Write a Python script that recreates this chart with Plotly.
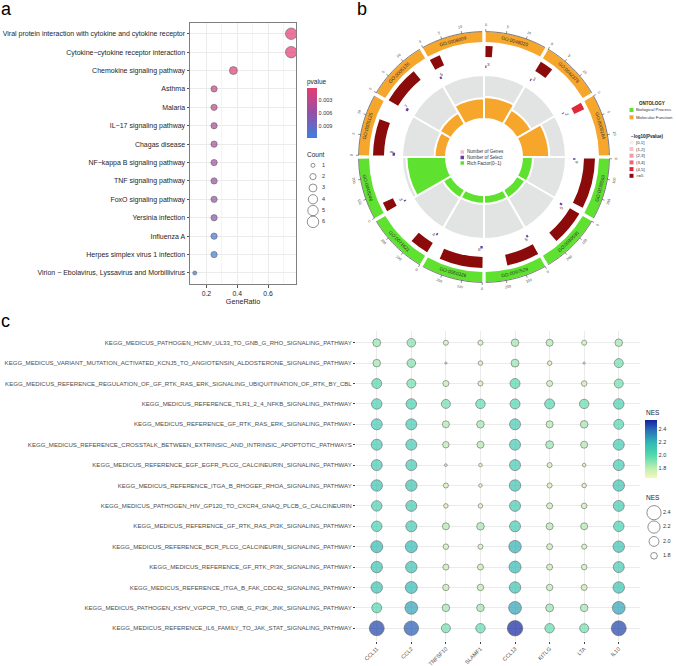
import numpy as np
import plotly.graph_objects as go

W, H = 676, 666
FONT = "Liberation Sans, Arial, sans-serif"


def px(x):
    return x / W


def py(y):
    return 1 - y / H


# ---------------- Panel a data ----------------
a_terms = [
    "Viral protein interaction with cytokine and cytokine receptor",
    "Cytokine\u2212cytokine receptor interaction",
    "Chemokine signaling pathway",
    "Asthma",
    "Malaria",
    "IL\u221217 signaling pathway",
    "Chagas disease",
    "NF\u2212kappa B signaling pathway",
    "TNF signaling pathway",
    "FoxO signaling pathway",
    "Yersinia infection",
    "Influenza A",
    "Herpes simplex virus 1 infection",
    "Virion \u2212 Ebolavirus, Lyssavirus and Morbillivirus",
]
a_ratio = [0.75, 0.75, 0.375, 0.25, 0.25, 0.25, 0.25, 0.25, 0.25, 0.25, 0.25, 0.25, 0.25, 0.125]
a_count = [6, 6, 3, 2, 2, 2, 2, 2, 2, 2, 2, 2, 2, 1]
a_pvalue = [0.00012, 0.00015, 0.0008, 0.0019, 0.0024, 0.0042, 0.0046, 0.0049, 0.0053,
            0.0061, 0.0066, 0.0109, 0.0113, 0.0117]
a_xticks = [0.2, 0.4, 0.6]
count_levels = [1, 2, 3, 4, 5, 6]
pv_ticks = [0.003, 0.006, 0.009]

# ---------------- Panel b data (clockwise from 12 o'clock) ----------------
b_go = ["GO:0048020", "GO:0042379", "GO:0005164", "GO:0030593", "GO:0030595", "GO:0097529",
        "GO:0060326", "GO:0071621", "GO:0048246", "GO:0005125", "GO:0005126", "GO:0008009"]
b_ont = ["MF", "MF", "MF", "BP", "BP", "BP", "BP", "BP", "BP", "MF", "MF", "MF"]
b_bg_frac = [0.13, 0.25, 0.13, 0.93, 0.65, 0.6, 0.8, 0.35, 0.17, 0.67, 0.7, 0.2]
b_logp_cat = [">=5", ">=5", "(4,5]", ">=5", ">=5", ">=5", ">=5", ">=5", ">=5", ">=5", ">=5", ">=5"]
b_select = [3, 3, 2, 4, 5, 5, 6, 4, 3, 8, 7, 5]
b_rich = [0.5, 0.38, 0.62, 0.25, 0.22, 0.2, 0.2, 0.22, 0.9, 0.26, 0.3, 0.47]
b_ticks_mf = ["0", "5", "10"]
b_ticks_bp = ["0", "100", "200"]
b_logp_levels = ["[0,1]", "(1,2]", "(2,3]", "(3,4]", "(4,5]", ">=5"]
b_center_legend = ["Number of Genes", "Number of Select", "Rich Factor(0\u22121)"]
b_ont_legend = ["Biological Process", "Molecular Function"]

# ---------------- Panel c data ----------------
c_genes = ["CCL11", "CCL2", "TNFSF10", "SLAMF1", "CCL13", "KITLG", "LTA", "IL10"]
c_paths = [
    "KEGG_MEDICUS_PATHOGEN_HCMV_UL33_TO_GNB_G_RHO_SIGNALING_PATHWAY",
    "KEGG_MEDICUS_VARIANT_MUTATION_ACTIVATED_KCNJ5_TO_ANGIOTENSIN_ALDOSTERONE_SIGNALING_PATHWAY",
    "KEGG_MEDICUS_REFERENCE_REGULATION_OF_GF_RTK_RAS_ERK_SIGNALING_UBIQUITINATION_OF_RTK_BY_CBL",
    "KEGG_MEDICUS_REFERENCE_TLR1_2_4_NFKB_SIGNALING_PATHWAY",
    "KEGG_MEDICUS_REFERENCE_GF_RTK_RAS_ERK_SIGNALING_PATHWAY",
    "KEGG_MEDICUS_REFERENCE_CROSSTALK_BETWEEN_EXTRINSIC_AND_INTRINSIC_APOPTOTIC_PATHWAYS",
    "KEGG_MEDICUS_REFERENCE_EGF_EGFR_PLCG_CALCINEURIN_SIGNALING_PATHWAY",
    "KEGG_MEDICUS_REFERENCE_ITGA_B_RHOGEF_RHOA_SIGNALING_PATHWAY",
    "KEGG_MEDICUS_PATHOGEN_HIV_GP120_TO_CXCR4_GNAQ_PLCB_G_CALCINEURIN",
    "KEGG_MEDICUS_REFERENCE_GF_RTK_RAS_PI3K_SIGNALING_PATHWAY",
    "KEGG_MEDICUS_REFERENCE_BCR_PLCG_CALCINEURIN_SIGNALING_PATHWAY",
    "KEGG_MEDICUS_REFERENCE_GF_RTK_PI3K_SIGNALING_PATHWAY",
    "KEGG_MEDICUS_REFERENCE_ITGA_B_FAK_CDC42_SIGNALING_PATHWAY",
    "KEGG_MEDICUS_PATHOGEN_KSHV_VGPCR_TO_GNB_G_PI3K_JNK_SIGNALING_PATHWAY",
    "KEGG_MEDICUS_REFERENCE_IL6_FAMILY_TO_JAK_STAT_SIGNALING_PATHWAY",
]
c_nes = [
    [1.87, 1.91, 1.73, 1.73, 1.85, 1.82, 1.73, 1.85],
    [1.85, 1.91, 1.65, 1.71, 1.87, 1.71, 1.65, 1.94],
    [2.01, 1.94, 1.77, 1.73, 2.01, 1.77, 1.75, 1.94],
    [2.05, 2.05, 1.94, 1.97, 2.01, 2.01, 1.97, 2.05],
    [2.09, 2.09, 1.82, 1.85, 2.09, 1.82, 1.85, 2.01],
    [2.09, 2.09, 1.79, 1.82, 2.09, 1.87, 1.82, 2.09],
    [2.09, 2.09, 1.66, 1.68, 2.09, 1.73, 1.68, 2.09],
    [2.13, 2.13, 1.73, 1.68, 2.13, 1.73, 1.71, 2.13],
    [2.05, 2.09, 1.71, 1.71, 2.09, 1.77, 1.75, 2.09],
    [2.05, 2.09, 1.82, 1.85, 2.09, 1.82, 1.82, 2.05],
    [2.18, 2.18, 1.75, 1.73, 2.22, 1.77, 1.73, 2.13],
    [2.13, 2.13, 1.77, 1.77, 2.18, 1.77, 1.75, 2.09],
    [2.13, 2.18, 1.79, 1.79, 2.13, 1.79, 1.77, 2.13],
    [2.01, 2.25, 1.85, 1.85, 2.25, 1.87, 1.85, 2.25],
    [2.48, 2.43, 1.94, 1.97, 2.54, 1.97, 1.94, 2.48],
]
nes_legend = [2.4, 2.2, 2.0, 1.8]
nes_ticks = [1.8, 2.0, 2.2, 2.4]

# ---------------- styles ----------------
TXT = "#1E1E1E"
GRID = "#EBEBEB"
ONT_COL = {"MF": "#F6A62B", "BP": "#5EE22F"}
LOGP_COL = {"[0,1]": "#F4F0F0", "(1,2]": "#F7C4CC", "(2,3]": "#F29AA6", "(3,4]": "#EC6676",
            "(4,5]": "#E0283A", ">=5": "#8B0A0A"}
CENTER_COL = ["#F2B9D6", "#6A3FA0", "#5EE22F"]
GREY_RING = "#E2E4E4"
NES_CS = [[0.0, "#F1FABB"], [0.17, "#BDEEB0"], [0.39, "#52DAAE"], [0.61, "#30B8B4"],
          [0.83, "#2A6BBA"], [1.0, "#13229E"]]
PV_CS = [[0.0, "#3B80DD"], [0.5, "#9450A8"], [1.0, "#E63B72"]]


def count_size(c):
    return np.sqrt(16 + 23.2 * (np.asarray(c, dtype=float) - 1))


def nes_size(v):
    return np.sqrt(np.maximum(264 * (np.asarray(v, dtype=float) - 1.632), 3.5))


fig = go.Figure()
annotations = []
shapes = []


def ann(x, y, text, size, color=TXT, xanchor="center", yanchor="middle", angle=0, xref="paper"):
    annotations.append(dict(x=x, y=y, xref=xref, yref="paper", text=text, showarrow=False,
                            xanchor=xanchor, yanchor=yanchor, textangle=angle, borderpad=0,
                            font=dict(size=size, color=color, family=FONT)))


# ================= Panel a =================
fig.add_trace(go.Scatter(
    x=a_ratio, y=a_terms, mode="markers", xaxis="x", yaxis="y", showlegend=False,
    marker=dict(size=count_size(a_count), color=[-p for p in a_pvalue], colorscale=PV_CS,
                cmin=-0.0117, cmax=-0.0001, line=dict(color="#222", width=0.6),
                colorbar=dict(x=px(307), xanchor="left", y=py(113), yanchor="middle",
                              len=50, lenmode="pixels", thickness=10, outlinewidth=0,
                              ypad=0, xpad=0,
                              tickvals=[-t for t in pv_ticks],
                              ticktext=[f"{t:.3f}" for t in pv_ticks], ticks="",
                              tickfont=dict(size=5.5, color="#333", family=FONT)))))
ann(px(306), py(82), "pvalue", 6.5, xanchor="left")

# Count legend
fig.add_trace(go.Scatter(
    x=[0] * len(count_levels), y=list(range(len(count_levels))), mode="markers",
    xaxis="x3", yaxis="y3", showlegend=False, cliponaxis=False,
    marker=dict(size=count_size(count_levels), color="white", line=dict(color="#222", width=0.7))))
fig.add_trace(go.Scatter(
    x=[9] * len(count_levels), y=list(range(len(count_levels))), mode="text",
    text=[str(c) for c in count_levels], textposition="middle right", cliponaxis=False,
    textfont=dict(size=5.5, color="#333", family=FONT), xaxis="x3", yaxis="y3", showlegend=False))
ann(px(306), py(154.5), "Count", 6.5, xanchor="left")

# ================= Panel b =================
CX, CY, RMAX = 484, 157, 140
nsec = len(b_go)
sec = 360 / nsec
starts = [i * sec for i in range(nsec)]
centers = [s + sec / 2 for s in starts]


def pol(theta, r):
    t = np.radians(theta)
    return px(CX + r * np.sin(t)), py(CY - r * np.cos(t))


def tang(theta):
    th = theta % 360
    a = th - 180 if 90 < th < 270 else th
    if a > 180:
        a -= 360
    return a


# rich factor ring: grey background + colored bar
fig.add_trace(go.Barpolar(theta=centers, r=[44] * nsec, base=[38] * nsec, width=[sec] * nsec,
                          marker=dict(color=GREY_RING, line=dict(color="white", width=2)),
                          subplot="polar", showlegend=False, hoverinfo="skip"))
fig.add_trace(go.Barpolar(theta=centers, r=[44 * v for v in b_rich], base=[38] * nsec,
                          width=[sec] * nsec,
                          marker=dict(color=[ONT_COL[o] for o in b_ont],
                                      line=dict(color="white", width=2)),
                          subplot="polar", showlegend=False, hoverinfo="skip"))
# number of genes bars
gap = 0.8
fig.add_trace(go.Barpolar(
    theta=[s + gap + f * (sec - 2 * gap) / 2 for s, f in zip(starts, b_bg_frac)],
    r=[11] * nsec, base=[100] * nsec, width=[f * (sec - 2 * gap) for f in b_bg_frac],
    marker=dict(color=[LOGP_COL[c] for c in b_logp_cat], line=dict(width=0)),
    subplot="polar", showlegend=False, hoverinfo="skip"))
# number of select bars
fig.add_trace(go.Barpolar(
    theta=[s + gap + n * 0.25 / 2 for s, n in zip(starts, b_select)],
    r=[2.5] * nsec, base=[89] * nsec, width=[n * 0.25 for n in b_select],
    marker=dict(color=CENTER_COL[1], line=dict(width=0)),
    subplot="polar", showlegend=False, hoverinfo="skip"))
# outer ontology band
fig.add_trace(go.Barpolar(theta=centers, r=[10] * nsec, base=[115] * nsec,
                          width=[sec - 1.6] * nsec,
                          marker=dict(color=[ONT_COL[o] for o in b_ont], line=dict(width=0)),
                          subplot="polar", showlegend=False, hoverinfo="skip"))
# outer axis line + ticks
arc_t, arc_r, tk_t, tk_r = [], [], [], []
for i, s in enumerate(starts):
    tt = list(np.linspace(s + 0.8, s + sec - 0.8, 15))
    arc_t += tt + [None]
    arc_r += [125.4] * 15 + [None]
    labs = b_ticks_mf if b_ont[i] == "MF" else b_ticks_bp
    for k, lab in enumerate(labs):
        th = s + 0.8 + k * (sec - 1.6) / len(labs)
        tk_t += [th, th, None]
        tk_r += [125.4, 128, None]
        xx, yy = pol(th, 132)
        ann(xx, yy, lab, 3.6, color="#444", angle=tang(th))
fig.add_trace(go.Scatterpolar(theta=arc_t, r=arc_r, mode="lines", line=dict(color="#444", width=0.7),
                              subplot="polar", showlegend=False, hoverinfo="skip", connectgaps=False))
fig.add_trace(go.Scatterpolar(theta=tk_t, r=tk_r, mode="lines", line=dict(color="#444", width=0.6),
                              subplot="polar", showlegend=False, hoverinfo="skip", connectgaps=False))

for i, c in enumerate(centers):
    xx, yy = pol(c, 120)
    ann(xx, yy, b_go[i], 4.8, color="#333", angle=tang(c))
    xs_, ys_ = pol(starts[i] + 3, 93)
    ann(xs_, ys_, str(b_select[i]), 4.5, color="#444", angle=tang(starts[i] + 3))

# center legend
for k, lab in enumerate(b_center_legend):
    yk = 152 + k * 5.5
    shapes.append(dict(type="rect", xref="paper", yref="paper", x0=px(460.5), x1=px(464),
                       y0=py(yk + 1.75), y1=py(yk - 1.75), fillcolor=CENTER_COL[k], line=dict(width=0)))
    ann(px(466), py(yk), lab, 4.6, color="#333", xanchor="left")

# right legend
ann(px(652), py(103), "<b>ONTOLOGY</b>", 4.5, color="#222")
for k, (lab, key) in enumerate(zip(b_ont_legend, ["BP", "MF"])):
    yk = 110 + k * 7.3
    shapes.append(dict(type="rect", xref="paper", yref="paper", x0=px(629.5), x1=px(633.5),
                       y0=py(yk + 2), y1=py(yk - 2), fillcolor=ONT_COL[key], line=dict(width=0)))
    ann(px(635), py(yk), lab, 4.3, color="#333", xanchor="left")
ann(px(630), py(136), "<b>\u2212log10(Pvalue)</b>", 4.5, color="#222", xanchor="left")
for k, lab in enumerate(b_logp_levels):
    yk = 142.3 + k * 6.7
    shapes.append(dict(type="rect", xref="paper", yref="paper", x0=px(629.5), x1=px(633.5),
                       y0=py(yk + 2), y1=py(yk - 2), fillcolor=LOGP_COL[lab], line=dict(width=0)))
    ann(px(635), py(yk), lab, 4.3, color="#333", xanchor="left")

# ================= Panel c =================
xs, ys, vals = [], [], []
for i, p in enumerate(c_paths):
    for j, g in enumerate(c_genes):
        xs.append(g)
        ys.append(p)
        vals.append(c_nes[i][j])
fig.add_trace(go.Scatter(
    x=xs, y=ys, mode="markers", xaxis="x2", yaxis="y2", showlegend=False,
    marker=dict(size=nes_size(vals), color=vals, colorscale=NES_CS, cmin=1.645, cmax=2.545,
                line=dict(color="#2a2a2a", width=0.6),
                colorbar=dict(x=px(645), xanchor="left", y=py(449), yanchor="middle",
                              len=58, lenmode="pixels", thickness=12, outlinewidth=0,
                              ypad=0, xpad=0,
                              tickvals=nes_ticks, ticktext=[f"{t:.1f}" for t in nes_ticks],
                              ticks="", tickfont=dict(size=5.5, color="#333", family=FONT)))))
ann(px(645), py(412), "NES", 6.5, xanchor="left")
# NES size legend
fig.add_trace(go.Scatter(
    x=[0] * len(nes_legend), y=list(range(len(nes_legend))), mode="markers",
    xaxis="x4", yaxis="y4", showlegend=False, cliponaxis=False,
    marker=dict(size=nes_size(nes_legend), color="white", line=dict(color="#222", width=0.7))))
fig.add_trace(go.Scatter(
    x=[9] * len(nes_legend), y=list(range(len(nes_legend))), mode="text",
    text=[f"{v:.1f}" for v in nes_legend], textposition="middle right", cliponaxis=False,
    textfont=dict(size=5.5, color="#333", family=FONT), xaxis="x4", yaxis="y4", showlegend=False))
ann(px(645), py(497), "NES", 6.5, xanchor="left")

# panel letters
ann(px(6), py(9), "a", 18, color="#000")
ann(px(362), py(9), "b", 18, color="#000")
ann(px(5), py(321), "c", 18, color="#000")

fig.update_layout(
    width=W, height=H, margin=dict(l=0, r=0, t=0, b=0), paper_bgcolor="white",
    plot_bgcolor="white", font=dict(family=FONT, color=TXT), showlegend=False,
    annotations=annotations, shapes=shapes,
    xaxis=dict(domain=[px(190), px(296)], anchor="y", range=[0.094, 0.781],
               tickvals=a_xticks, ticktext=[str(t) for t in a_xticks],
               showgrid=True, gridcolor=GRID, gridwidth=0.8, zeroline=False,
               minor=dict(tickvals=[0.1, 0.3, 0.5, 0.7], showgrid=True, gridcolor="#F4F4F4", gridwidth=0.6),
               showline=True, mirror=True, linecolor="#7F7F7F", linewidth=1,
               ticks="outside", ticklen=2.5, tickcolor="#555",
               tickfont=dict(size=6.8, color=TXT),
               title=dict(text="GeneRatio", font=dict(size=7.2, color=TXT), standoff=1)),
    yaxis=dict(domain=[py(284), py(22.7)], anchor="x", type="category",
               categoryorder="array", categoryarray=list(reversed(a_terms)),
               range=[-0.6, len(a_terms) - 0.4],
               showgrid=True, gridcolor=GRID, gridwidth=0.8, zeroline=False,
               showline=True, mirror=True, linecolor="#7F7F7F", linewidth=1,
               ticks="outside", ticklen=2.5, tickcolor="#555",
               tickfont=dict(size=7.0, color=TXT)),
    xaxis2=dict(domain=[px(356), px(639.5)], anchor="y2", type="category",
                categoryorder="array", categoryarray=c_genes, range=[-0.6, len(c_genes) - 0.4],
                showgrid=True, gridcolor=GRID, gridwidth=0.8, zeroline=False, showline=False,
                ticks="outside", ticklen=2, tickcolor="#444", tickangle=-45,
                tickfont=dict(size=5.5, color="#4D4D4D")),
    yaxis2=dict(domain=[py(640.5), py(330.5)], anchor="x2", type="category",
                categoryorder="array", categoryarray=list(reversed(c_paths)),
                range=[-0.6, len(c_paths) - 0.4],
                showgrid=True, gridcolor=GRID, gridwidth=0.8, zeroline=False, showline=False,
                ticks="outside", ticklen=2, tickcolor="#444",
                tickfont=dict(size=6.1, color="#4D4D4D")),
    xaxis3=dict(domain=[px(300), px(336)], anchor="y3", range=[-13, 23], visible=False),
    yaxis3=dict(domain=[py(227.5), py(159.7)], anchor="x3", range=[len(count_levels) - 0.5, -0.5],
                visible=False),
    xaxis4=dict(domain=[px(640), px(676)], anchor="y4", range=[-14, 22], visible=False),
    yaxis4=dict(domain=[py(563), py(505.5)], anchor="x4", range=[len(nes_legend) - 0.5, -0.5],
                visible=False),
    polar=dict(domain=dict(x=[px(CX - RMAX), px(CX + RMAX)], y=[py(CY + RMAX), py(CY - RMAX)]),
               bgcolor="rgba(0,0,0,0)", hole=0,
               radialaxis=dict(range=[0, RMAX], visible=False),
               angularaxis=dict(visible=False, direction="clockwise", rotation=90)),
)

fig.write_html("out.html", config={"displayModeBar": False},
               post_script="document.body.style.margin='0';document.body.style.overflow='hidden';")
